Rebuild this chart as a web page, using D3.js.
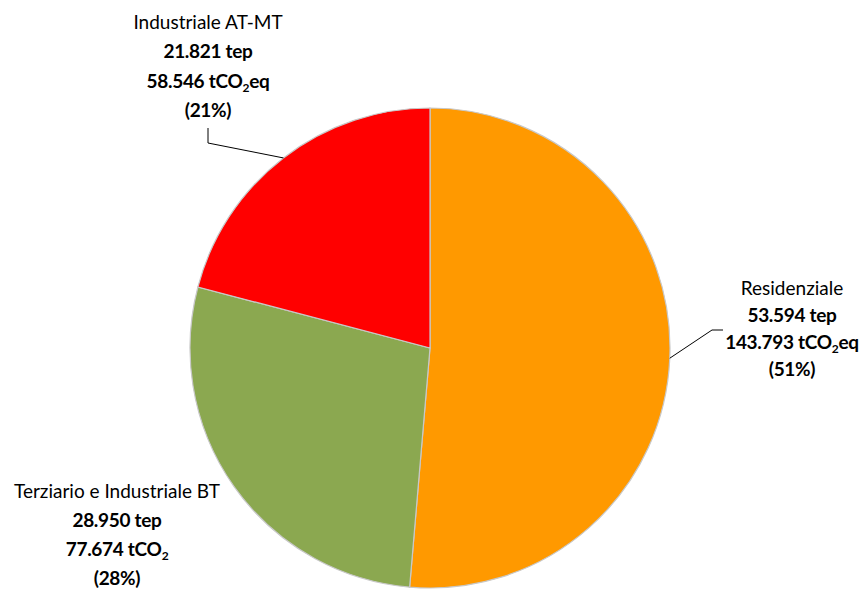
<!DOCTYPE html>
<html>
<head>
<meta charset="utf-8">
<script src="https://cdn.jsdelivr.net/npm/d3@7"></script>
<style>
  html, body { margin: 0; padding: 0; background: #fff; }
  svg text { font-family: Lato, "Open Sans", sans-serif; fill: #000; }
</style>
</head>
<body>
<svg id="chart" width="860" height="590"></svg>
<script>
// Consumi energetici per settore
const categories = ["Residenziale", "Terziario e Industriale BT", "Industriale AT-MT"];
const tepValues = [53594, 28950, 21821];
const co2Labels = ["143.793", "77.674", "58.546"];
const co2Units = ["eq", "", "eq"];
const percentLabels = ["51%", "28%", "21%"];
const sliceColors = ["#FF9900", "#8BA850", "#FF0000"];

const svg = d3.select("#chart");
const cx = 430, cy = 348, radius = 240;

const pie = d3.pie().sort(null).value(d => d.tep);
const arc = d3.arc().innerRadius(0).outerRadius(radius);

const data = categories.map((c, i) => ({
  name: c, tep: tepValues[i], co2: co2Labels[i], unit: co2Units[i],
  pct: percentLabels[i], color: sliceColors[i]
}));
const arcs = pie(data);

const g = svg.append("g").attr("transform", `translate(${cx},${cy})`);
g.selectAll("path.slice")
  .data(arcs)
  .enter().append("path")
  .attr("class", "slice")
  .attr("d", arc)
  .attr("fill", d => d.data.color)
  .attr("stroke", "#C8C8C8")
  .attr("stroke-width", 1.2);

const fmt = d3.formatLocale({ decimal: ",", thousands: ".", grouping: [3] }).format(",");

// label placement: text centre x, first line y, line spacing, leader elbow points
const labelLayout = [
  { x: 792, y: 288, step: 27, leader: [[712, 330], [723, 330]] },
  { x: 117, y: 491, step: 29, leader: null },
  { x: 208, y: 22, step: 29.5, leader: [[208, 143], [208, 128]] }
];

arcs.forEach((a, i) => {
  const L = labelLayout[i];
  const t = svg.append("g");
  const lines = [
    { text: a.data.name, bold: false },
    { text: fmt(a.data.tep) + " tep", bold: true },
    { co2: true, bold: true },
    { text: "(" + a.data.pct + ")", bold: true }
  ];
  lines.forEach((ln, k) => {
    const txt = t.append("text")
      .attr("x", L.x)
      .attr("y", L.y + k * L.step)
      .attr("dy", "0.35em")
      .attr("text-anchor", "middle")
      .style("font-size", "19px")
      .style("letter-spacing", ln.bold ? "-0.3px" : "0px")
      .style("font-weight", ln.bold ? "bold" : "normal");
    if (ln.co2) {
      txt.append("tspan").text(a.data.co2 + " tCO");
      txt.append("tspan").text("2").style("font-size", "12px").attr("dy", "4");
      if (a.data.unit) txt.append("tspan").text(a.data.unit).attr("dy", "-4");
    } else {
      txt.text(ln.text);
    }
  });

  if (L.leader) {
    // leader starts on the slice rim at the slice's middle angle
    const mid = (a.startAngle + a.endAngle) / 2;
    const edge = [cx + radius * Math.sin(mid), cy - radius * Math.cos(mid)];
    const pts = [edge].concat(L.leader);
    svg.append("path")
      .attr("d", d3.line()(pts))
      .attr("fill", "none")
      .attr("stroke", "#000")
      .attr("stroke-width", 1);
  }
});
</script>
</body>
</html>
